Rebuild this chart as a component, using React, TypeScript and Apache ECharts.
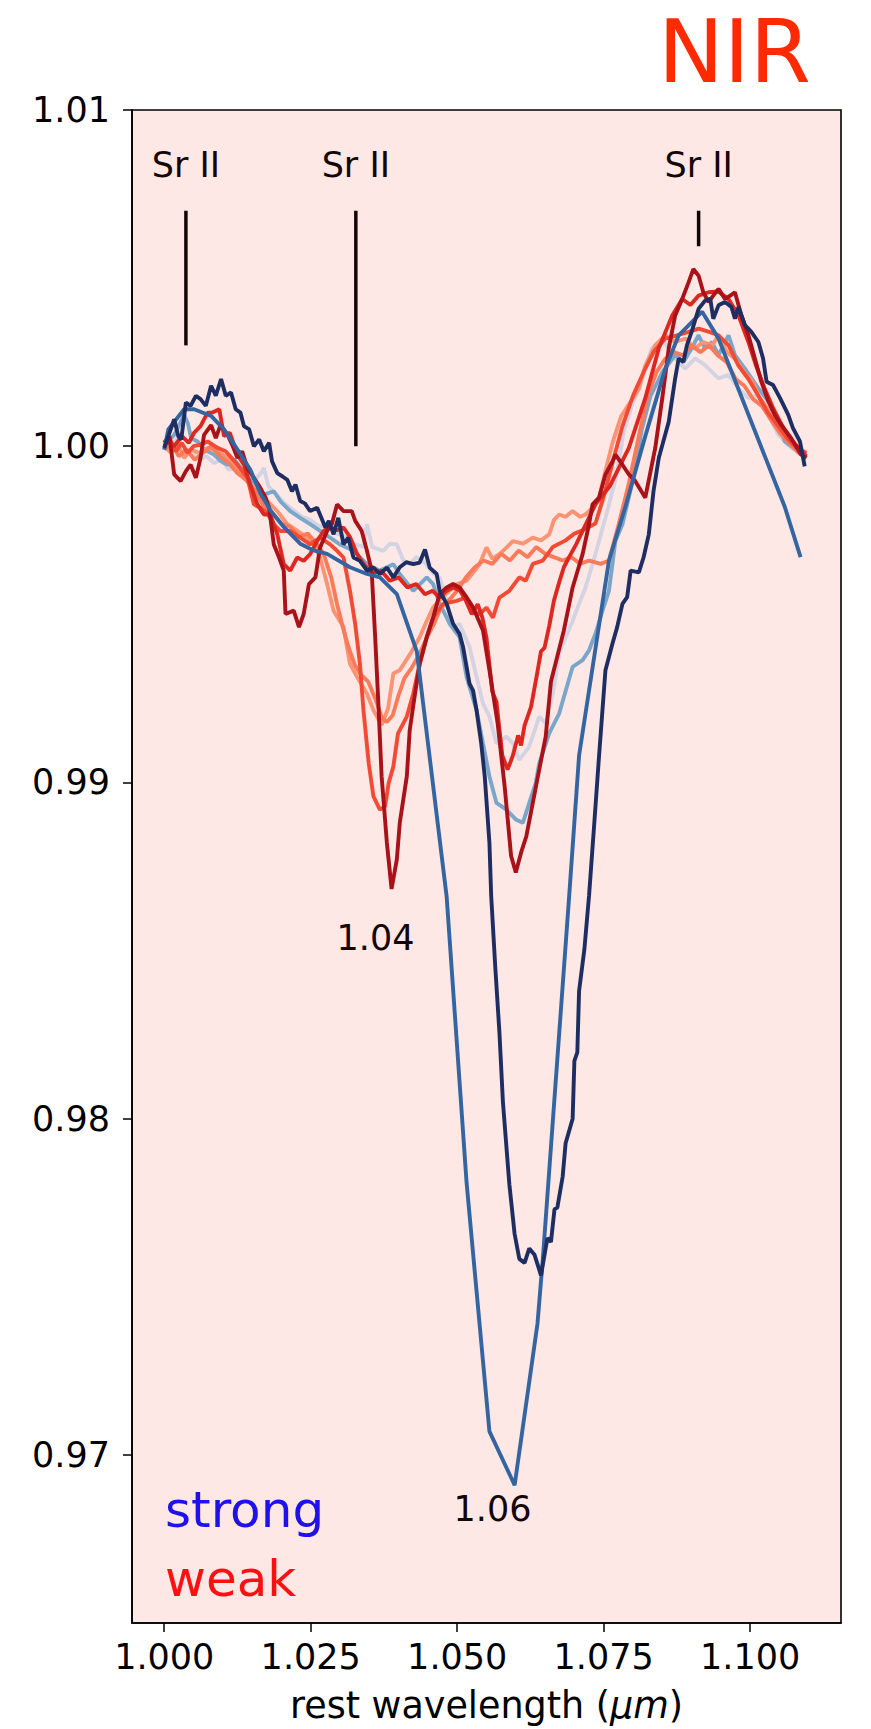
import React, { useEffect, useRef } from "react";
import * as echarts from "echarts";

const FONT = "DejaVu Sans";

// axis ticks
const xTicks = [1.0, 1.025, 1.05, 1.075, 1.1];
const yTicks = [0.97, 0.98, 0.99, 1.0, 1.01];

// Sr II marker lines: wavelength, bottom, top
const srWave = [1.0037, 1.0327, 1.0912];
const srBottom = [1.003, 1.0, 1.00595];
const srTop = [1.007, 1.007, 1.007];
const srLabelY = 1.00837;

// text annotations in data space
const annotText = ["1.04", "1.06"];
const annotX = [1.03606, 1.05602];
const annotY = [0.98536, 0.9684];

// strong (blue family)
const lavender: [number, number][] = [
  [1.0, 1.0], [1.0012, 0.9999], [1.0024, 1.0003], [1.0036, 0.9998], [1.0048, 0.9999],
  [1.006, 0.9996], [1.0072, 0.9997], [1.0085, 0.9995], [1.0098, 0.9996], [1.011, 0.9993],
  [1.0125, 0.9994], [1.014, 0.9991], [1.0155, 0.999], [1.0165, 0.9992], [1.017, 0.99935],
  [1.0178, 0.9988], [1.019, 0.9986], [1.0205, 0.9983], [1.022, 0.9981], [1.0235, 0.9979],
  [1.025, 0.9978], [1.0265, 0.9976], [1.028, 0.9977], [1.0295, 0.9974], [1.031, 0.9973],
  [1.0325, 0.9971], [1.034, 0.997], [1.0346, 0.99768], [1.0355, 0.997], [1.0374, 0.99689],
  [1.0385, 0.9971], [1.0397, 0.99708], [1.0408, 0.9966], [1.0419, 0.99649], [1.043, 0.9967],
  [1.0442, 0.99659], [1.046, 0.9962], [1.047, 0.9961], [1.048, 0.9955], [1.0493, 0.99462],
  [1.0504, 0.99472], [1.0521, 0.99403], [1.0533, 0.99314], [1.0544, 0.99235], [1.0555, 0.99196],
  [1.0567, 0.99116], [1.0584, 0.99136], [1.0595, 0.99116], [1.0606, 0.99067], [1.0623, 0.99107],
  [1.064, 0.99196], [1.0651, 0.99176], [1.0663, 0.99264], [1.0674, 0.99383], [1.0685, 0.99432],
  [1.0697, 0.99481], [1.0708, 0.99531], [1.0719, 0.9958], [1.0731, 0.99649], [1.0753, 0.99787],
  [1.077, 0.999], [1.0785, 1.0005], [1.08, 1.0013], [1.081, 1.00172], [1.0832, 1.00291],
  [1.085, 1.0032], [1.0872, 1.00261], [1.0889, 1.00231], [1.0906, 1.00261], [1.0923, 1.00241],
  [1.0946, 1.00202], [1.0963, 1.00212], [1.098, 1.00172], [1.0997, 1.00143], [1.1014, 1.00152],
  [1.1031, 1.00093], [1.1048, 1.00034], [1.107, 0.99995], [1.1087, 0.99975],
];

const lightBlue: [number, number][] = [
  [1.0, 1.0], [1.0017, 1.00034], [1.0034, 1.00093], [1.004, 1.0007], [1.0046, 1.00024],
  [1.0057, 1.00014], [1.0068, 0.9999], [1.0085, 0.99975], [1.0097, 0.99955], [1.0108, 0.99945],
  [1.012, 0.9996], [1.0131, 0.99935], [1.0142, 0.99906], [1.0155, 0.9989], [1.017, 0.99856],
  [1.0187, 0.99866], [1.0198, 0.99837], [1.0215, 0.99807], [1.0232, 0.99787], [1.0249, 0.99768],
  [1.0266, 0.99748], [1.0283, 0.99728], [1.03, 0.99708], [1.0323, 0.99689], [1.0346, 0.99649],
  [1.0368, 0.9963], [1.0391, 0.99649], [1.0402, 0.9962], [1.0425, 0.9957], [1.0448, 0.9961],
  [1.0459, 0.9959], [1.047, 0.99531], [1.0482, 0.99491], [1.0487, 0.99472], [1.0504, 0.99432],
  [1.0516, 0.99314], [1.0533, 0.99215], [1.0544, 0.99116], [1.0555, 0.99018], [1.0567, 0.98939],
  [1.0584, 0.98919], [1.06, 0.9889], [1.0612, 0.9888], [1.0623, 0.98939], [1.0634, 0.98998],
  [1.064, 0.99057], [1.0657, 0.99146], [1.0674, 0.99205], [1.0697, 0.99344], [1.0714, 0.99364],
  [1.0725, 0.99393], [1.0736, 0.99442], [1.0748, 0.99511], [1.0759, 0.9957], [1.077, 0.99718],
  [1.0782, 0.99768], [1.08, 0.999], [1.0815, 1.0005], [1.083, 1.0015], [1.085, 1.0022],
  [1.0872, 1.00271], [1.0886, 1.0025], [1.09, 1.00291], [1.0912, 1.0033], [1.0923, 1.00291],
  [1.0935, 1.0031], [1.0946, 1.00271], [1.0963, 1.0033], [1.0974, 1.00271], [1.0991, 1.00231],
  [1.1014, 1.00172], [1.1036, 1.00123], [1.1048, 1.00073], [1.1059, 1.00014], [1.1082, 0.99985],
  [1.1093, 0.9997],
];

const midBlue: [number, number][] = [
  [1.0, 0.9999], [1.0007, 1.0005], [1.0034, 1.0011], [1.0051, 1.0011], [1.008, 1.0009],
  [1.0102, 1.0005], [1.0125, 0.9999], [1.0147, 0.9993], [1.0164, 0.9986], [1.0181, 0.9981],
  [1.0204, 0.9976], [1.0232, 0.9971], [1.0255, 0.9969], [1.0278, 0.9968], [1.0317, 0.9964],
  [1.0346, 0.9962], [1.0368, 0.9961], [1.0397, 0.9956], [1.0431, 0.9939], [1.0482, 0.9866],
  [1.0516, 0.9781], [1.0555, 0.9707], [1.0598, 0.9691], [1.0637, 0.9739], [1.0646, 0.9758],
  [1.0691, 0.9866], [1.0708, 0.9908], [1.0759, 0.9966], [1.0787, 0.9982], [1.0821, 1.0003],
  [1.0855, 1.0023], [1.0878, 1.0033], [1.0918, 1.004], [1.0946, 1.0032], [1.1059, 0.9982],
  [1.1086, 0.9967],
];

const navy: [number, number][] = [
  [1.0, 0.99995], [1.0009, 1.0004], [1.0017, 1.0008], [1.0024, 1.0003], [1.0029, 1.0002],
  [1.0037, 1.0013], [1.0045, 1.0012], [1.0054, 1.0015], [1.0062, 1.0014], [1.0071, 1.0012],
  [1.008, 1.0018], [1.0088, 1.0015], [1.0097, 1.002], [1.0105, 1.0015], [1.0114, 1.0016],
  [1.0122, 1.0011], [1.013, 1.001], [1.0136, 1.0006], [1.0145, 1.0005], [1.0153, 1.0],
  [1.0162, 1.0002], [1.017, 0.99985], [1.0179, 1.0001], [1.0184, 0.99955], [1.0193, 0.9992],
  [1.0202, 0.9991], [1.021, 0.999], [1.0218, 0.99866], [1.0224, 0.99886], [1.0232, 0.99837],
  [1.024, 0.9983], [1.0249, 0.99807], [1.0261, 0.99817], [1.0275, 0.99758], [1.0281, 0.99778],
  [1.0289, 0.99738], [1.0297, 0.99787], [1.0306, 0.99708], [1.0314, 0.99728], [1.0323, 0.99669],
  [1.0334, 0.99659], [1.0346, 0.9963], [1.0357, 0.99639], [1.0368, 0.9962], [1.038, 0.99639],
  [1.0391, 0.9961], [1.0402, 0.9964], [1.0413, 0.99655], [1.0425, 0.99649], [1.0436, 0.99654],
  [1.0445, 0.99693], [1.0453, 0.99639], [1.0465, 0.9962], [1.047, 0.9957], [1.0482, 0.99531],
  [1.0493, 0.99472], [1.0504, 0.99442], [1.051, 0.99403], [1.0521, 0.99294], [1.0527, 0.99274],
  [1.0533, 0.99215], [1.0541, 0.99116], [1.0547, 0.99018], [1.0555, 0.9882], [1.0558, 0.98663],
  [1.0565, 0.9845], [1.0572, 0.98258], [1.0578, 0.9805], [1.0589, 0.97805], [1.0598, 0.97657],
  [1.0606, 0.97583], [1.0615, 0.97571], [1.0623, 0.97614], [1.0632, 0.97595], [1.0643, 0.97534],
  [1.0654, 0.97645], [1.066, 0.97633], [1.0666, 0.9773], [1.0671, 0.97736], [1.068, 0.97828],
  [1.0685, 0.97927], [1.0697, 0.98], [1.07, 0.98172], [1.0705, 0.98197], [1.0708, 0.9838],
  [1.0717, 0.98503], [1.0725, 0.98663], [1.0734, 0.9888], [1.0742, 0.99077], [1.0753, 0.99334],
  [1.0765, 0.99413], [1.0773, 0.99462], [1.0782, 0.99531], [1.079, 0.99551], [1.0796, 0.9963],
  [1.081, 0.99625], [1.0818, 0.99669], [1.0827, 0.99738], [1.0835, 0.99866], [1.0844, 0.99965],
  [1.0861, 1.00073], [1.0872, 1.00202], [1.0878, 1.00261], [1.0886, 1.00251], [1.0892, 1.003],
  [1.09, 1.0034], [1.0912, 1.00409], [1.0923, 1.00433], [1.0932, 1.00438], [1.0937, 1.00379],
  [1.0946, 1.00419], [1.0957, 1.00429], [1.0968, 1.00414], [1.0974, 1.00379], [1.098, 1.00414],
  [1.0991, 1.0036], [1.1002, 1.0034], [1.1014, 1.0031], [1.1022, 1.00261], [1.1028, 1.00192],
  [1.1039, 1.00182], [1.1051, 1.00143], [1.1065, 1.00093], [1.1073, 1.00054], [1.1085, 1.00014],
  [1.1093, 0.9994],
];

// weak (red family)
const salmon: [number, number][] = [
  [1.0, 1.0], [1.0012, 0.9998], [1.0022, 1.0001], [1.0034, 0.99965], [1.0046, 0.9999],
  [1.006, 0.9998], [1.0074, 0.99995], [1.0091, 0.99985], [1.0108, 0.99965], [1.012, 0.9994],
  [1.013, 0.99916], [1.0147, 0.99886], [1.0159, 0.99856], [1.0176, 0.99837], [1.0193, 0.99807],
  [1.021, 0.99768], [1.0227, 0.99748], [1.0244, 0.99728], [1.0255, 0.99708], [1.0266, 0.99669],
  [1.0278, 0.9959], [1.0289, 0.99511], [1.0306, 0.99462], [1.0317, 0.99353], [1.0329, 0.99314],
  [1.0346, 0.99264], [1.0357, 0.99215], [1.0371, 0.99171], [1.0382, 0.9922], [1.0391, 0.99324],
  [1.0402, 0.99334], [1.0419, 0.9938], [1.0436, 0.99432], [1.0448, 0.9948], [1.0459, 0.99521],
  [1.0474, 0.9955], [1.0487, 0.9957], [1.05, 0.9959], [1.0516, 0.996], [1.053, 0.9963],
  [1.0538, 0.99649], [1.055, 0.99699], [1.056, 0.99665], [1.0572, 0.99679], [1.0585, 0.997],
  [1.0595, 0.99718], [1.0612, 0.9971], [1.0629, 0.99728], [1.0643, 0.9972], [1.0657, 0.99738],
  [1.0665, 0.9978], [1.0674, 0.99797], [1.0685, 0.9979], [1.0697, 0.99807], [1.071, 0.9979],
  [1.0719, 0.99797], [1.0731, 0.99817], [1.0742, 0.99847], [1.0752, 0.9992], [1.0765, 1.0001],
  [1.078, 1.0009], [1.0795, 1.0013], [1.081, 1.0017], [1.0821, 1.0024], [1.0838, 1.003],
  [1.0855, 1.0033], [1.0872, 1.0031], [1.089, 1.0032], [1.0905, 1.0029], [1.092, 1.0031],
  [1.0935, 1.003], [1.0946, 1.0033], [1.096, 1.0028], [1.0974, 1.0026], [1.099, 1.0022],
  [1.1005, 1.0019], [1.1014, 1.0015], [1.103, 1.0011], [1.1048, 1.0005], [1.1065, 1.0002],
  [1.1082, 0.99995], [1.1096, 0.9998],
];

const lightOrange: [number, number][] = [
  [1.0, 0.9999], [1.0012, 1.0001], [1.0025, 0.9997], [1.0038, 0.9999], [1.0052, 0.9996],
  [1.0066, 0.9998], [1.008, 1.0], [1.0095, 0.9997], [1.011, 0.9995], [1.0125, 0.9992],
  [1.014, 0.999], [1.0155, 0.9987], [1.017, 0.9982], [1.0185, 0.998], [1.02, 0.9977],
  [1.0215, 0.9976], [1.023, 0.9973], [1.0245, 0.9974], [1.026, 0.9971], [1.0272, 0.9968],
  [1.0285, 0.9961], [1.0295, 0.9953], [1.0305, 0.9946], [1.0315, 0.994], [1.0325, 0.9935],
  [1.0336, 0.9932], [1.0348, 0.993], [1.036, 0.9925], [1.0372, 0.9919], [1.038, 0.9918],
  [1.039, 0.992], [1.04, 0.9926], [1.041, 0.9931], [1.0422, 0.9934], [1.0435, 0.9938],
  [1.0448, 0.9943], [1.046, 0.9947], [1.0472, 0.9952], [1.0485, 0.9954], [1.05, 0.9957],
  [1.0515, 0.9961], [1.053, 0.9964], [1.0545, 0.9966], [1.056, 0.9965], [1.0575, 0.9968],
  [1.059, 0.9966], [1.0605, 0.9969], [1.062, 0.9967], [1.0635, 0.997], [1.065, 0.9968],
  [1.0665, 0.9967], [1.068, 0.9966], [1.0695, 0.9967], [1.071, 0.9965], [1.0725, 0.9966],
  [1.0745, 0.9965], [1.0759, 0.9966], [1.0776, 0.9977], [1.0793, 0.9989], [1.081, 1.0003],
  [1.0825, 1.0015], [1.084, 1.0022], [1.0855, 1.0026], [1.087, 1.0028], [1.0885, 1.0027],
  [1.09, 1.003], [1.0915, 1.0028], [1.093, 1.003], [1.0945, 1.0027], [1.096, 1.0025],
  [1.0975, 1.002], [1.099, 1.0018], [1.1005, 1.0014], [1.102, 1.0012], [1.1035, 1.0008],
  [1.105, 1.0004], [1.1067, 1.0001], [1.1083, 0.9998], [1.1096, 0.9997],
];

const orangeRed: [number, number][] = [
  [1.0, 1.0], [1.001, 1.0002], [1.002, 0.99985], [1.003, 1.0001], [1.004, 0.9998],
  [1.005, 1.0], [1.0062, 1.00005], [1.0074, 1.00014], [1.0091, 0.99995], [1.0105, 0.99985],
  [1.0125, 0.99945], [1.0142, 0.99906], [1.0153, 0.99827], [1.0164, 0.99817], [1.0176, 0.998],
  [1.0187, 0.99768], [1.0198, 0.99748], [1.0215, 0.99748], [1.0232, 0.99728], [1.0249, 0.99708],
  [1.0266, 0.99728], [1.0283, 0.99708], [1.0295, 0.99689], [1.0306, 0.99669], [1.0317, 0.9957],
  [1.0326, 0.9947], [1.0334, 0.99353], [1.034, 0.99215], [1.0349, 0.99057], [1.0357, 0.98959],
  [1.0368, 0.98919], [1.0377, 0.98929], [1.0383, 0.98998], [1.0391, 0.99047], [1.0399, 0.99146],
  [1.0414, 0.99196], [1.0425, 0.99264], [1.0436, 0.99353], [1.0448, 0.99432], [1.0459, 0.99491],
  [1.0476, 0.99531], [1.0499, 0.9954], [1.0515, 0.9955], [1.0527, 0.9951], [1.0538, 0.995],
  [1.055, 0.9952], [1.0561, 0.9949], [1.0572, 0.9955], [1.0589, 0.9957], [1.0606, 0.9961],
  [1.0617, 0.996], [1.0629, 0.9965], [1.0646, 0.9966], [1.0663, 0.997], [1.0685, 0.9972],
  [1.07, 0.9974], [1.0714, 0.9975], [1.0736, 0.9977], [1.075, 0.9985], [1.0765, 0.9995],
  [1.0782, 1.0006], [1.08, 1.0015], [1.0818, 1.0022], [1.0835, 1.0028], [1.0855, 1.0032],
  [1.0875, 1.0033], [1.0895, 1.0034], [1.0912, 1.0035], [1.093, 1.0034], [1.0946, 1.0033],
  [1.0963, 1.003], [1.098, 1.0024], [1.0997, 1.002], [1.1014, 1.0015], [1.103, 1.001],
  [1.1048, 1.0006], [1.1065, 1.0002], [1.1082, 0.9999], [1.1096, 0.9998],
];

const red: [number, number][] = [
  [1.0, 1.0002], [1.0017, 1.0], [1.003, 1.0003], [1.0042, 1.0001], [1.0051, 1.0004],
  [1.0062, 1.0006], [1.0074, 1.001], [1.0082, 1.001], [1.0094, 1.0011], [1.0102, 1.0003],
  [1.0112, 1.0004], [1.0125, 0.99975], [1.0136, 0.99945], [1.0147, 0.99886], [1.0159, 0.99827],
  [1.017, 0.99797], [1.0181, 0.99797], [1.0193, 0.99738], [1.0204, 0.99649], [1.0215, 0.9963],
  [1.0227, 0.99669], [1.0238, 0.99659], [1.0249, 0.99679], [1.0261, 0.99718], [1.0272, 0.99748],
  [1.0283, 0.9976], [1.0295, 0.9975], [1.0306, 0.99758], [1.0317, 0.9973], [1.0329, 0.9968],
  [1.034, 0.9965], [1.0355, 0.9962], [1.037, 0.9963], [1.0385, 0.996], [1.04, 0.9961],
  [1.0415, 0.9958], [1.043, 0.9959], [1.0445, 0.9956], [1.0458, 0.9957], [1.047, 0.9955],
  [1.0482, 0.9957], [1.0493, 0.9958], [1.0505, 0.9957], [1.0515, 0.9954], [1.0525, 0.995],
  [1.0535, 0.9953], [1.0543, 0.9949], [1.055, 0.9943], [1.0555, 0.9935], [1.056, 0.9927],
  [1.0567, 0.9924], [1.0572, 0.9916], [1.0577, 0.9908], [1.0586, 0.99038], [1.0595, 0.9908],
  [1.0604, 0.9914], [1.0609, 0.9911], [1.0615, 0.9917], [1.0626, 0.99225], [1.0635, 0.9931],
  [1.0643, 0.9939], [1.0649, 0.994], [1.0657, 0.99465], [1.0665, 0.9954], [1.0674, 0.99595],
  [1.0682, 0.9964], [1.0691, 0.9967], [1.0703, 0.99708], [1.0714, 0.99748], [1.0725, 0.99788],
  [1.0736, 0.99827], [1.076, 0.9988], [1.0793, 0.99995], [1.0821, 1.00143], [1.0844, 1.00291],
  [1.0867, 1.00389], [1.0884, 1.00438], [1.0898, 1.0042], [1.0912, 1.00448], [1.0929, 1.00458],
  [1.0946, 1.0046], [1.0963, 1.00438], [1.098, 1.00389], [1.0997, 1.0031], [1.101, 1.0024],
  [1.1025, 1.0017], [1.104, 1.0011], [1.1055, 1.0006], [1.107, 1.0002], [1.1085, 0.9999],
  [1.1096, 0.9997],
];

const darkRed: [number, number][] = [
  [1.0, 1.0001], [1.0009, 1.0003], [1.0017, 0.99916], [1.0028, 0.99896], [1.0037, 0.99926],
  [1.0045, 0.99945], [1.0054, 0.99906], [1.0062, 0.99965], [1.0068, 1.00034], [1.008, 1.00063],
  [1.0088, 1.00024], [1.0096, 1.00063], [1.0108, 1.00034], [1.0116, 1.00004], [1.0125, 0.99965],
  [1.0133, 0.99985], [1.0142, 0.99935], [1.0153, 0.99906], [1.0164, 0.99876], [1.0173, 0.99847],
  [1.0179, 0.99817], [1.0187, 0.99708], [1.0196, 0.99669], [1.0204, 0.9963], [1.0207, 0.99501],
  [1.0221, 0.99511], [1.023, 0.99462], [1.0238, 0.99501], [1.0247, 0.9959], [1.0258, 0.9961],
  [1.0266, 0.99699], [1.0278, 0.99748], [1.0286, 0.99768], [1.0295, 0.99827], [1.0306, 0.99807],
  [1.032, 0.99807], [1.0326, 0.99778], [1.0337, 0.99748], [1.0346, 0.99689], [1.0354, 0.9963],
  [1.036, 0.99432], [1.0366, 0.99215], [1.0371, 0.99018], [1.038, 0.9882], [1.0388, 0.98683],
  [1.0397, 0.98771], [1.0402, 0.9888], [1.0414, 0.99018], [1.0419, 0.99156], [1.0428, 0.99264],
  [1.0436, 0.99353], [1.0448, 0.99432], [1.0459, 0.99491], [1.047, 0.9956], [1.0482, 0.9958],
  [1.0493, 0.9959], [1.0504, 0.9958], [1.0516, 0.99551], [1.0527, 0.99521], [1.0544, 0.99452],
  [1.0555, 0.99334], [1.0569, 0.99176], [1.0581, 0.98988], [1.0592, 0.98781], [1.06, 0.98732],
  [1.0609, 0.98791], [1.0618, 0.9884], [1.0629, 0.98939], [1.064, 0.99038], [1.0651, 0.99136],
  [1.066, 0.993], [1.0682, 0.99452], [1.0697, 0.9958], [1.0714, 0.99679], [1.0725, 0.99768],
  [1.0731, 0.99827], [1.0742, 0.99847], [1.0753, 0.99916], [1.0765, 0.99955], [1.077, 0.99975],
  [1.0782, 0.99945], [1.0793, 0.99916], [1.0804, 0.99896], [1.0821, 0.99847], [1.0838, 0.99995],
  [1.085, 1.00143], [1.0861, 1.00291], [1.0872, 1.00389], [1.0884, 1.00438], [1.0895, 1.00488],
  [1.0903, 1.00527], [1.0912, 1.00507], [1.092, 1.00458], [1.0929, 1.00429], [1.0937, 1.00448],
  [1.0946, 1.00468], [1.0957, 1.00438], [1.0966, 1.00448], [1.0974, 1.00458], [1.0985, 1.00389],
  [1.0997, 1.0033], [1.1008, 1.00261], [1.1019, 1.00192], [1.1031, 1.00133], [1.1042, 1.00093],
  [1.1053, 1.00063], [1.107, 1.00024], [1.1087, 0.99975], [1.1096, 0.99965],
];

const spectra: { name: string; data: [number, number][]; color: string }[] = [
  { name: "lavender", data: lavender, color: "#d3d3e3" },
  { name: "lightBlue", data: lightBlue, color: "#7aa6c9" },
  { name: "salmon", data: salmon, color: "#fc9474" },
  { name: "lightOrange", data: lightOrange, color: "#fb7a5a" },
  { name: "orangeRed", data: orangeRed, color: "#f24a34" },
  { name: "red", data: red, color: "#dc2820" },
  { name: "darkRed", data: darkRed, color: "#a81218" },
  { name: "midBlue", data: midBlue, color: "#3465a1" },
  { name: "navy", data: navy, color: "#1f2e62" },
];

export default function App() {
  const ref = useRef<HTMLDivElement>(null);
  useEffect(() => {
    document.body.style.margin = "0";
    const chart = echarts.init(ref.current!, null, { renderer: "svg" });
    const inkColor = "#140606";
    const series: any[] = spectra.map((s) => ({
      name: s.name,
      type: "line",
      data: s.data,
      showSymbol: false,
      symbol: "none",
      lineStyle: { color: s.color, width: 3.9 },
      silent: true,
    }));
    srWave.forEach((w, i) => {
      series.push({
        type: "line",
        data: [
          [w, srBottom[i]],
          [w, srTop[i]],
        ],
        showSymbol: false,
        symbol: "none",
        lineStyle: { color: inkColor, width: 3.5 },
        silent: true,
      });
    });
    const labels = [
      ...srWave.map((w) => ({ value: [w, srLabelY], name: "Sr II" })),
      ...annotText.map((t, i) => ({ value: [annotX[i], annotY[i]], name: t })),
    ];
    series.push({
      type: "scatter",
      data: labels,
      symbolSize: 0,
      silent: true,
      itemStyle: { opacity: 1 },
      label: {
        show: true,
        position: "inside",
        formatter: "{b}",
        fontSize: 35,
        fontFamily: FONT,
        color: inkColor,
        opacity: 1,
        textBorderWidth: 0,
        align: "center",
        verticalAlign: "middle",
      },
    });

    chart.setOption({
      animation: false,
      grid: {
        left: 132,
        right: 30,
        top: 110,
        bottom: 101,
        show: true,
        backgroundColor: "#fde8e5",
        borderColor: "#000",
        borderWidth: 1.6,
      },
      xAxis: {
        type: "value",
        min: 0.9945,
        max: 1.1155,
        splitLine: { show: false },
        axisLine: { show: true, onZero: false, lineStyle: { color: "#000", width: 1.6 } },
        axisTick: { show: true, length: 9, lineStyle: { color: "#000", width: 1.5 }, customValues: xTicks },
        axisLabel: {
          customValues: xTicks,
          formatter: (v: number) => v.toFixed(3),
          fontSize: 35,
          fontFamily: FONT,
          color: "#000",
          margin: 16,
        },
        name: "{a|rest wavelength (}{b|μm}{a|)}",
        nameLocation: "middle",
        nameGap: 64,
        nameTextStyle: {
          rich: {
            a: { fontSize: 36.5, fontFamily: FONT, color: "#000" },
            b: { fontSize: 36.5, fontFamily: FONT, color: "#000", fontStyle: "italic" },
          },
        },
      },
      yAxis: {
        type: "value",
        min: 0.965,
        max: 1.01,
        splitLine: { show: false },
        axisLine: { show: true, onZero: false, lineStyle: { color: "#000", width: 1.6 } },
        axisTick: { show: true, length: 9, lineStyle: { color: "#000", width: 1.5 }, customValues: yTicks },
        axisLabel: {
          customValues: yTicks,
          formatter: (v: number) => v.toFixed(2),
          fontSize: 35,
          fontFamily: FONT,
          color: "#000",
          margin: 22,
        },
      },
      graphic: [
        {
          type: "text",
          x: 658,
          y: 51,
          style: {
            text: "NIR",
            fontSize: 88,
            fontFamily: FONT,
            fill: "#ff2a00",
            verticalAlign: "middle",
          },
        },
        {
          type: "text",
          x: 165,
          y: 1510,
          style: { text: "strong", fontSize: 50, fontFamily: FONT, fill: "#2010ec", verticalAlign: "middle" },
        },
        {
          type: "text",
          x: 165,
          y: 1579,
          style: { text: "weak", fontSize: 50, fontFamily: FONT, fill: "#ff1010", verticalAlign: "middle" },
        },
      ],
      series,
    });
    return () => chart.dispose();
  }, []);
  return <div ref={ref} style={{ width: 871, height: 1729 }} />;
}
